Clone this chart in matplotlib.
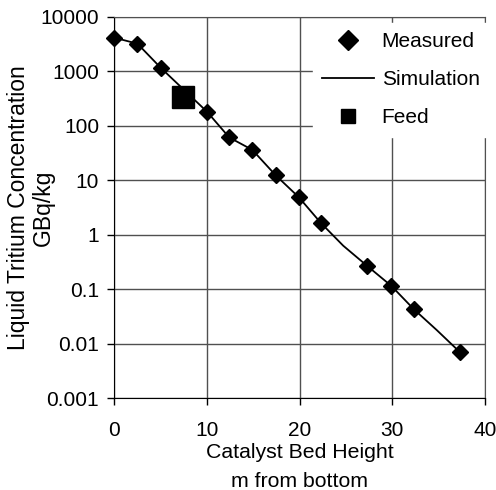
import numpy as np
import matplotlib
matplotlib.use("Agg")
import matplotlib.pyplot as plt
from matplotlib.lines import Line2D

plt.rcParams["font.family"] = ["Liberation Sans", "DejaVu Sans"]

# measured points (height m, GBq/kg)
meas_x = [0, 2.5, 5.0, 10.0, 12.4, 14.9, 17.4, 19.9, 22.3, 27.3, 29.9, 32.3, 37.3]
meas_y = [4120, 3200, 1160, 181, 61, 36, 12.4, 4.9, 1.64, 0.267, 0.115, 0.0434, 0.0070]

# simulation curve
sim_x = [0, 2.5, 5.0, 10.0, 12.4, 14.9, 17.4, 19.9, 22.3, 24.7, 27.3, 29.9, 32.3, 34.8, 37.3]
sim_y = [4120, 3200, 1160, 181, 61, 36, 12.4, 4.9, 1.64, 0.63, 0.267, 0.115, 0.0434, 0.0178, 0.0070]

# feed point
feed_x = [7.4]
feed_y = [332]

y_ticks = [0.001, 0.01, 0.1, 1, 10, 100, 1000, 10000]
y_labels = ["0.001", "0.01", "0.1", "1", "10", "100", "1000", "10000"]
x_ticks = [0, 10, 20, 30, 40]

FS = 15
W, H = 496, 490
fig = plt.figure(figsize=(W / 100, H / 100), dpi=100)
ax = fig.add_axes([114.3 / W, 1 - 398.3 / H, (485 - 114.3) / W, (398.3 - 16.7) / H])

ax.plot(sim_x, sim_y, color="black", lw=1.3, zorder=3)
ax.plot(meas_x, meas_y, ls="none", marker="D", ms=8.5, color="black", zorder=4, clip_on=False)
ax.plot(feed_x, feed_y, ls="none", marker="s", ms=15.5, color="black", zorder=4)

ax.set_yscale("log")
ax.set_xlim(0, 40)
ax.set_ylim(0.001, 10000)
ax.set_yticks(y_ticks)
ax.set_yticklabels(y_labels)
ax.minorticks_off()
ax.set_xticks(x_ticks)
ax.tick_params(labelsize=FS, direction="out", length=5, width=1, color="black", pad=6)
ax.tick_params(axis="x", pad=11)

ax.grid(True, color="#505050", lw=1)
ax.set_axisbelow(True)
for s in ["top", "right"]:
    ax.spines[s].set_color("#505050")
for s in ["left", "bottom"]:
    ax.spines[s].set_color("black")

# axis titles
fig.text(31 / W, 1 - 208 / H, "Liquid Tritium Concentration\nGBq/kg", fontsize=16.5,
         rotation=90, ha="center", va="center", multialignment="center", linespacing=1.1)
xc = (114.3 + 485) / 2 / W
fig.text(xc, 1 - 458 / H, "Catalyst Bed Height", fontsize=15.3, ha="center", va="baseline")
fig.text(xc, 1 - 487 / H, "m from bottom", fontsize=15.3, ha="center", va="baseline")

handles = [
    Line2D([], [], ls="none", marker="D", ms=10, color="black"),
    Line2D([], [], color="black", lw=1.3),
    Line2D([], [], ls="none", marker="s", ms=10.5, color="black"),
]
leg = ax.legend(handles, ["Measured", "Simulation", "Feed"], loc="upper right",
                bbox_to_anchor=(1 + 4 / 370.7, 1 - 6 / 381.6),
                fontsize=FS, frameon=True, fancybox=False, framealpha=1,
                edgecolor="white", facecolor="white", borderaxespad=0,
                handlelength=2.5, handletextpad=0.35, labelspacing=0.92,
                borderpad=0.45)
leg.set_zorder(5)

fig.savefig("out.png", dpi=100, facecolor="white")
